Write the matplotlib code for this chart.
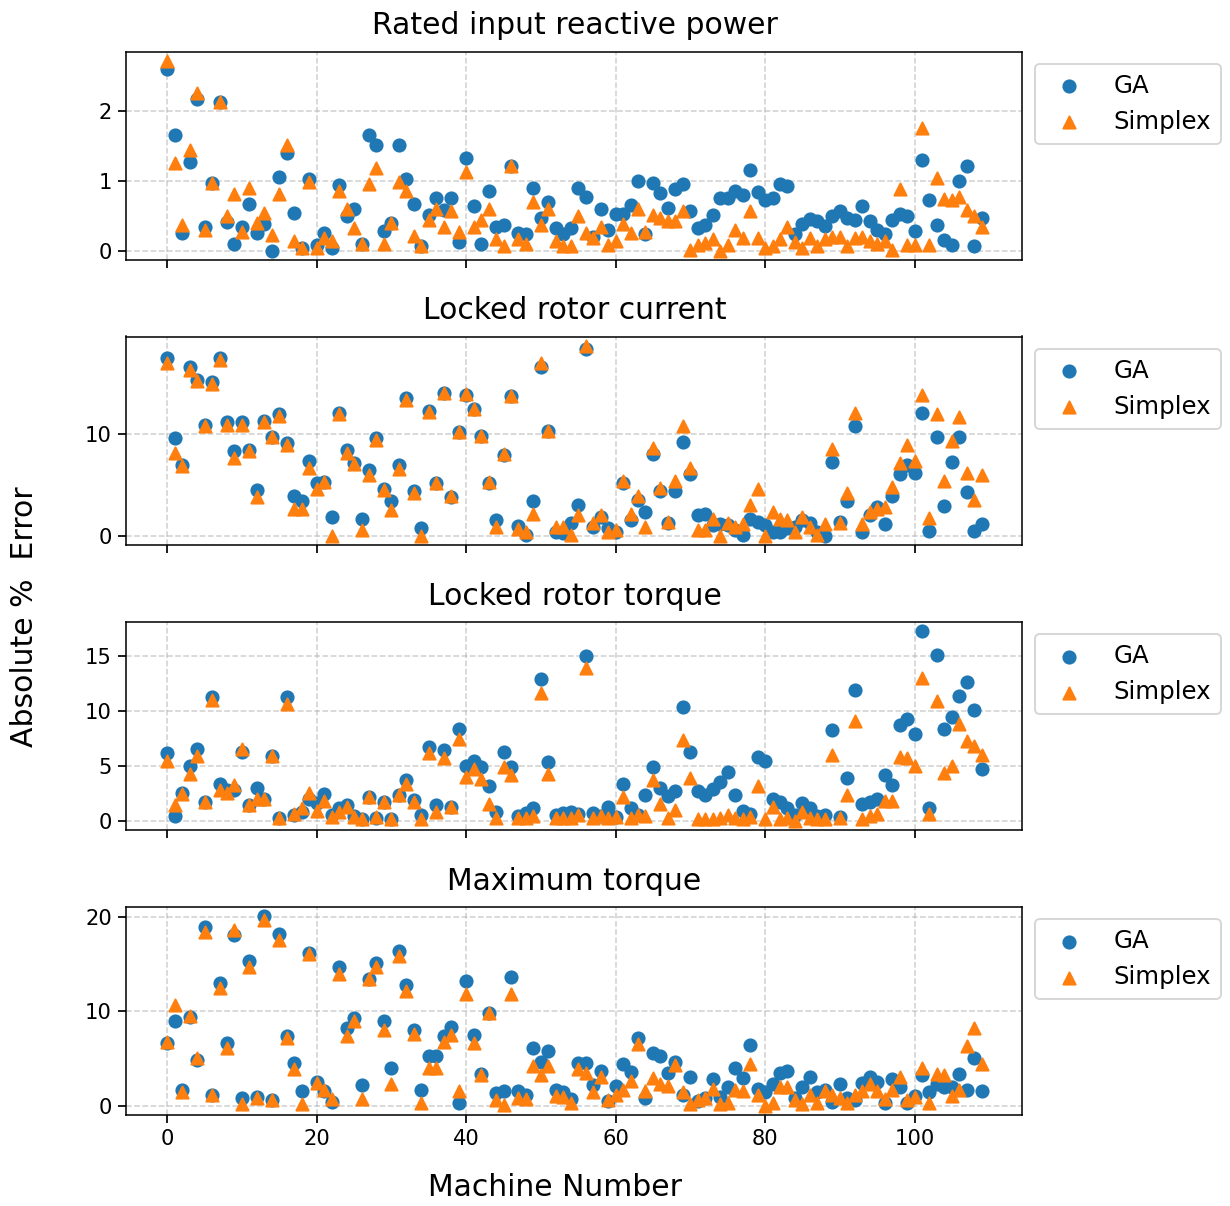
import numpy as np
import matplotlib
matplotlib.use("Agg")
import matplotlib.pyplot as plt

machines = np.arange(110)

reactive_ga = [2.61, 1.66, 0.25, 1.27, 2.18, 0.34, 0.97, 2.13, 0.41, 0.09,
               0.34, 0.67, 0.25, 0.38, 0.0, 1.05, 1.4, 0.54, 0.04, 1.02,
               0.08, 0.25, 0.03, 0.94, 0.49, 0.6, 0.09, 1.66, 1.51, 0.28,
               0.4, 1.51, 1.03, 0.67, 0.06, 0.51, 0.75, 0.58, 0.75, 0.12,
               1.33, 0.64, 0.1, 0.85, 0.34, 0.37, 1.22, 0.25, 0.24, 0.9,
               0.46, 0.7, 0.33, 0.23, 0.33, 0.9, 0.77, 0.2, 0.59, 0.29,
               0.53, 0.53, 0.65, 1.0, 0.23, 0.97, 0.82, 0.61, 0.89, 0.96,
               0.57, 0.32, 0.37, 0.51, 0.75, 0.75, 0.85, 0.79, 1.15, 0.84,
               0.72, 0.75, 0.96, 0.92, 0.24, 0.38, 0.45, 0.43, 0.35, 0.5,
               0.56, 0.46, 0.44, 0.64, 0.42, 0.3, 0.24, 0.44, 0.53, 0.49,
               0.28, 1.3, 0.72, 0.36, 0.15, 0.08, 1.0, 1.21, 0.06, 0.47]
reactive_simplex = [2.72, 1.26, 0.37, 1.44, 2.26, 0.3, 0.97, 2.13, 0.49, 0.81,
                    0.27, 0.9, 0.4, 0.54, 0.22, 0.81, 1.52, 0.14, 0.03, 0.99,
                    0.03, 0.18, 0.14, 0.85, 0.59, 0.33, 0.1, 0.95, 1.19, 0.1,
                    0.4, 0.99, 0.85, 0.21, 0.06, 0.44, 0.6, 0.34, 0.56, 0.26,
                    1.12, 0.34, 0.44, 0.59, 0.17, 0.06, 1.22, 0.17, 0.1, 0.7,
                    0.37, 0.6, 0.13, 0.06, 0.06, 0.5, 0.25, 0.18, 0.34, 0.08,
                    0.13, 0.38, 0.25, 0.6, 0.26, 0.51, 0.46, 0.42, 0.42, 0.57,
                    0.01, 0.08, 0.11, 0.16, 0.0, 0.08, 0.3, 0.18, 0.56, 0.18,
                    0.03, 0.06, 0.16, 0.34, 0.12, 0.04, 0.18, 0.06, 0.16, 0.2,
                    0.19, 0.06, 0.18, 0.2, 0.13, 0.09, 0.13, 0.01, 0.89, 0.08,
                    0.08, 1.76, 0.08, 1.04, 0.74, 0.72, 0.77, 0.58, 0.49, 0.34]

current_ga = [17.5, 9.6, 7.0, 16.6, 15.3, 10.9, 15.1, 17.5, 11.2, 8.3,
              11.2, 8.4, 4.5, 11.3, 9.7, 12.0, 9.1, 3.9, 3.4, 7.4,
              5.2, 5.3, 1.8, 12.1, 8.4, 7.2, 1.6, 6.5, 9.6, 4.6,
              3.4, 7.0, 13.6, 4.4, 0.7, 12.3, 5.2, 14.1, 3.8, 10.2,
              13.9, 12.5, 9.8, 5.2, 1.5, 7.9, 13.8, 0.9, 0.1, 3.4,
              16.6, 10.3, 0.3, 0.2, 1.2, 3.0, 18.4, 0.8, 1.8, 0.7,
              0.3, 5.2, 1.5, 3.5, 2.3, 8.0, 4.4, 1.2, 4.4, 9.2,
              6.1, 2.0, 2.1, 1.0, 1.1, 1.0, 0.5, 0.1, 1.6, 1.3,
              1.0, 0.3, 0.3, 0.7, 0.8, 1.5, 1.2, 0.3, 0.0, 7.3,
              1.3, 3.4, 10.8, 0.3, 2.0, 2.8, 1.1, 3.9, 6.1, 7.0,
              6.2, 12.1, 0.4, 9.7, 2.9, 7.3, 9.7, 4.3, 0.4, 1.1]
current_simplex = [17.0, 8.1, 6.9, 16.3, 15.2, 10.8, 14.9, 17.3, 10.9, 7.6,
                   10.9, 8.3, 3.8, 11.2, 9.7, 11.8, 8.95, 2.6, 2.6, 6.7,
                   4.6, 5.3, 0.0, 12.0, 8.1, 7.1, 0.5, 6.0, 9.4, 4.5,
                   2.5, 6.6, 13.4, 4.2, 0.0, 12.2, 5.2, 14.1, 3.9, 10.2,
                   14.0, 12.5, 9.8, 5.3, 0.8, 8.0, 13.8, 0.6, 0.3, 2.1,
                   17.0, 10.3, 0.8, 0.8, 0.1, 2.0, 18.7, 1.2, 2.0, 0.3,
                   0.5, 5.4, 2.1, 3.9, 0.8, 8.6, 4.7, 1.3, 5.4, 10.8,
                   6.7, 0.5, 0.5, 1.6, 0.0, 1.2, 0.8, 1.1, 3.0, 4.6,
                   0.0, 2.3, 1.6, 1.5, 0.3, 1.8, 0.8, 0.1, 1.1, 8.5,
                   1.2, 4.2, 12.1, 1.1, 2.3, 2.6, 2.8, 4.8, 7.2, 8.9,
                   7.4, 13.9, 1.7, 12.0, 5.4, 9.3, 11.7, 6.2, 3.5, 6.0]

lr_torque_ga = [6.1, 0.4, 2.5, 5.0, 6.5, 1.7, 11.2, 3.3, 2.8, 2.8,
                6.2, 1.4, 3.0, 2.0, 5.9, 0.2, 11.2, 0.5, 0.8, 2.0,
                1.6, 2.4, 0.5, 1.1, 1.4, 0.4, 0.1, 2.1, 0.2, 1.7,
                0.1, 2.3, 3.7, 1.9, 0.5, 6.7, 1.4, 6.4, 1.2, 8.3,
                5.0, 5.4, 4.9, 3.1, 0.8, 6.2, 4.9, 0.4, 0.7, 1.1,
                12.9, 5.3, 0.5, 0.7, 0.8, 0.6, 15.0, 0.7, 0.4, 1.2,
                0.3, 3.3, 1.1, 0.5, 2.3, 4.9, 3.0, 2.2, 2.7, 10.3,
                6.2, 2.7, 2.3, 2.9, 3.5, 4.4, 2.3, 0.9, 0.6, 5.8,
                5.4, 2.0, 1.7, 1.1, 0.5, 1.6, 1.1, 0.4, 0.5, 8.2,
                0.3, 3.9, 11.9, 1.5, 1.7, 2.0, 4.1, 3.2, 8.7, 9.2,
                7.9, 17.2, 1.1, 15.1, 8.3, 9.4, 11.3, 12.6, 10.1, 4.7]
lr_torque_simplex = [5.4, 1.4, 2.4, 4.2, 5.9, 1.7, 11.0, 2.8, 2.5, 3.2,
                     6.5, 1.4, 2.0, 2.0, 5.9, 0.2, 10.6, 0.6, 1.1, 2.5,
                     0.9, 1.8, 0.3, 0.8, 1.2, 0.3, 0.1, 2.1, 0.3, 1.7,
                     0.1, 2.3, 3.3, 1.7, 0.1, 6.1, 0.8, 5.7, 1.2, 7.4,
                     4.0, 4.7, 3.8, 1.5, 0.2, 4.9, 4.1, 0.2, 0.2, 0.4,
                     11.6, 4.2, 0.2, 0.2, 0.2, 0.5, 13.9, 0.2, 0.4, 0.2,
                     0.3, 2.1, 0.2, 0.5, 0.4, 3.7, 1.5, 0.2, 1.0, 7.3,
                     3.9, 0.1, 0.1, 0.1, 0.2, 0.5, 0.2, 0.1, 0.3, 3.1,
                     0.1, 1.2, 0.1, 0.2, 0.0, 0.8, 0.2, 0.1, 0.1, 6.0,
                     0.2, 2.3, 9.1, 0.1, 0.4, 0.6, 1.8, 1.8, 5.8, 5.7,
                     5.0, 13.0, 0.6, 10.9, 4.3, 5.0, 8.8, 7.2, 6.8, 6.0]

max_torque_ga = [6.7, 9.0, 1.6, 9.4, 4.8, 19.0, 1.1, 13.0, 6.7, 18.1,
                 0.8, 15.4, 0.9, 20.1, 0.6, 18.2, 7.4, 4.5, 1.5, 16.2,
                 2.5, 1.5, 0.4, 14.7, 8.2, 9.3, 2.2, 13.4, 15.1, 9.0,
                 4.0, 16.4, 12.8, 8.0, 1.6, 5.3, 5.3, 7.4, 8.3, 0.3,
                 13.2, 7.5, 3.4, 9.8, 1.3, 1.5, 13.7, 1.5, 1.1, 6.1,
                 4.6, 5.8, 1.6, 1.4, 0.7, 4.5, 4.5, 2.2, 3.7, 0.5,
                 2.1, 4.4, 3.6, 7.2, 0.8, 5.6, 5.3, 3.5, 4.6, 1.1,
                 3.0, 0.5, 0.8, 2.8, 0.9, 2.0, 4.0, 2.9, 6.4, 1.8,
                 1.4, 2.3, 3.5, 3.7, 0.8, 2.0, 3.0, 1.4, 1.7, 0.4,
                 2.3, 0.8, 0.6, 2.4, 3.0, 2.5, 0.3, 2.8, 2.0, 0.3,
                 1.0, 3.2, 1.4, 2.3, 2.0, 2.0, 3.4, 1.7, 5.1, 1.5]
max_torque_simplex = [6.8, 10.7, 1.4, 9.5, 5.1, 18.5, 1.1, 12.5, 6.1, 18.7,
                      0.2, 14.7, 0.8, 19.7, 0.6, 17.6, 7.2, 3.9, 0.2, 16.1,
                      2.4, 1.6, 0.7, 14.0, 7.4, 9.0, 0.7, 13.4, 14.7, 8.0,
                      2.3, 15.9, 12.2, 7.6, 0.3, 4.0, 4.0, 6.8, 7.5, 1.5,
                      11.9, 6.7, 3.3, 9.8, 0.6, 0.1, 11.9, 0.8, 0.7, 4.2,
                      3.2, 4.2, 1.0, 0.9, 0.3, 3.9, 3.5, 1.4, 3.0, 0.6,
                      1.1, 1.7, 2.6, 6.5, 1.5, 2.9, 2.3, 2.1, 4.3, 1.4,
                      0.2, 0.6, 0.8, 1.8, 0.2, 0.3, 1.6, 1.5, 4.4, 1.1,
                      0.0, 0.3, 2.0, 2.0, 0.6, 0.2, 1.1, 0.3, 1.5, 1.1,
                      0.8, 0.3, 1.1, 1.5, 2.3, 1.5, 0.7, 1.6, 3.0, 0.6,
                      0.9, 4.0, 0.3, 3.4, 3.3, 1.0, 1.7, 6.3, 8.2, 4.4]

titles = ["Rated input reactive power", "Locked rotor current",
          "Locked rotor torque", "Maximum torque"]
yticks = [[0, 1, 2], [0, 10], [0, 5, 10, 15], [0, 10, 20]]
series = [(reactive_ga, reactive_simplex), (current_ga, current_simplex),
          (lr_torque_ga, lr_torque_simplex), (max_torque_ga, max_torque_simplex)]

DPI = 139
fig = plt.figure(figsize=(1231 / DPI, 1206 / DPI), dpi=DPI)

left = 126.5 / 1231
width = (1022.5 - 126.5) / 1231
tops = [51.5, 336.5, 622, 907]
bottoms = [260, 545, 830, 1115]

axes = []
for k in range(4):
    b = 1 - bottoms[k] / 1206
    h = (bottoms[k] - tops[k]) / 1206
    if axes:
        ax = fig.add_axes([left, b, width, h], sharex=axes[0])
    else:
        ax = fig.add_axes([left, b, width, h])
    axes.append(ax)
    ga, sx = series[k]
    ax.scatter(machines, ga, marker='o', color='tab:blue', s=40, label='GA', zorder=2)
    ax.scatter(machines, sx, marker='^', color='tab:orange', s=40, label='Simplex', zorder=3)
    ax.set_title(titles[k], fontsize=15.5, pad=9)
    ax.set_yticks(yticks[k])
    ax.tick_params(labelsize=10.9, length=4, width=0.9)
    ax.grid(True, linestyle='--', alpha=0.6)
    ax.set_axisbelow(True)
    ax.legend(loc='upper left', bbox_to_anchor=(1.0, 1.0), fontsize=12.7)
    if k < 3:
        ax.tick_params(labelbottom=False)

axes[-1].set_xticks([0, 20, 40, 60, 80, 100])
fig.text(555.5 / 1231, 1 - 1187 / 1206, "Machine Number", fontsize=15.5,
         ha='center', va='center')
fig.text(25 / 1231, 1 - 616.5 / 1206, "Absolute %  Error", fontsize=15.5,
         ha='center', va='center', rotation=90)

fig.savefig("out.png", dpi=DPI)
